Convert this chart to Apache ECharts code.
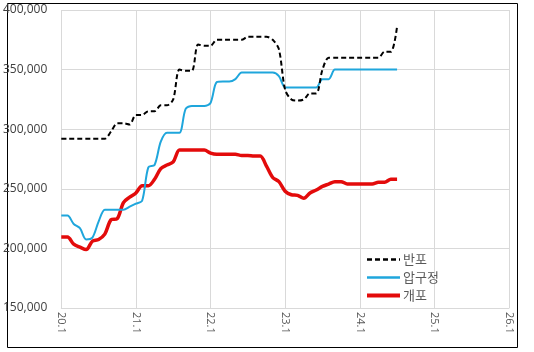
<!DOCTYPE html>
<html>
<head>
<meta charset="utf-8">
<script src="https://cdn.jsdelivr.net/npm/echarts@6/dist/echarts.min.js"></script>
<style>
  html, body { margin: 0; padding: 0; background: #fff; }
  #chart { width: 534px; height: 352px; }
</style>
</head>
<body>
<div id="chart"></div>
<script>
// 연도 눈금 (x축 라벨)
var tickLabels = ['20.1', '21.1', '22.1', '23.1', '24.1', '25.1', '26.1'];
var seriesNames = ['반포', '압구정', '개포'];

// 월별 값 (20.1 ~ 24.7)
var banpo = [
  292, 292, 292, 292, 292, 292, 292, 292, 298, 305, 305, 304,
  312, 312, 315, 315, 320, 320, 325, 350, 349, 349, 371, 370,
  370, 375, 375, 375, 375, 375, 377.5, 377.5, 377.5, 377.5, 375, 367,
  333, 325, 324, 325, 330, 330, 350, 360, 360, 360, 360, 360,
  360, 360, 360, 360, 365, 365, 386
];
var apgujeong = [
  227.5, 227.5, 220.5, 217, 207.5, 209, 222.5, 232.5, 232.5, 232.5, 232.5, 235,
  237.5, 240, 268, 270, 289.5, 297, 297, 297, 317, 319.5, 319.5, 319.5,
  322, 339.5, 340, 340, 342, 347.5, 347.5, 347.5, 347.5, 347.5, 347.5, 344.5,
  335, 335, 335, 335, 335, 335, 342, 342, 350, 350, 350, 350,
  350, 350, 350, 350, 350, 350, 350
];
var gaepo = [
  209.5, 209.5, 203.5, 201, 199, 206, 207.5, 212, 224, 225, 238.5, 243,
  246.5, 252.5, 252.5, 258, 267, 270, 272.5, 282.5, 282.5, 282.5, 282.5, 282.5,
  280, 279, 279, 279, 279, 278, 278, 277.5, 277.5, 269, 259.5, 256,
  248, 245, 244.5, 242, 246.5, 249, 252, 254, 256, 256, 254, 254,
  254, 254, 254, 255.5, 255.5, 258, 258
];

// 월 카테고리 만들기
var months = [];
for (var y = 20; y <= 26; y++) {
  for (var m = 1; m <= 12; m++) {
    months.push(y + '.' + m);
    if (y === 26) break;
  }
}

function toWon(arr) {
  return arr.map(function (v) { return v * 1000; });
}

var chart = echarts.init(document.getElementById('chart'));

var option = {
  animation: false,
  textStyle: { fontFamily: 'Open Sans, Noto Sans CJK KR, sans-serif' },
  grid: { left: 61, right: 25, top: 10, bottom: 44 },
  graphic: [{
    type: 'rect',
    shape: { x: 7.5, y: 3.5, width: 510, height: 344 },
    style: { fill: 'none', stroke: '#000', lineWidth: 1 },
    silent: true
  }],
  legend: {
    orient: 'vertical',
    left: 360,
    top: 248,
    itemWidth: 33,
    itemHeight: 14,
    itemGap: 5,
    itemStyle: { opacity: 0 },
    textStyle: { color: '#595959', fontSize: 13, fontFamily: 'Noto Sans CJK KR', padding: [0, 0, 0, -2] },
    data: [
      { name: seriesNames[0], lineStyle: { width: 2.5 } },
      { name: seriesNames[1], lineStyle: { width: 2.5 } },
      { name: seriesNames[2], lineStyle: { width: 4 } }
    ]
  },
  xAxis: {
    type: 'category',
    boundaryGap: false,
    data: months,
    axisTick: { show: false },
    axisLine: { lineStyle: { color: '#d9d9d9' } },
    axisLabel: {
      interval: 11,
      rotate: -90,
      color: '#595959',
      fontSize: 11,
      margin: 4,
      formatter: function (v) {
        return tickLabels.indexOf(v) >= 0 ? v : '';
      }
    },
    splitLine: { show: true, interval: 11, lineStyle: { color: '#d9d9d9' } }
  },
  yAxis: {
    type: 'value',
    min: 150000,
    max: 400000,
    interval: 50000,
    axisLine: { show: false },
    axisTick: { show: false },
    axisLabel: {
      color: '#404040',
      fontSize: 12,
      margin: 14,
      formatter: function (v) { return v.toLocaleString('en-US'); }
    },
    splitLine: { lineStyle: { color: '#d9d9d9' } }
  },
  series: [
    {
      name: seriesNames[0],
      type: 'line',
      data: toWon(banpo),
      symbol: 'none',
      smooth: 0.3,
      lineStyle: { color: '#000', width: 2, type: [5, 3] },
      itemStyle: { color: '#000' },
      z: 4
    },
    {
      name: seriesNames[1],
      type: 'line',
      data: toWon(apgujeong),
      symbol: 'none',
      smooth: 0.3,
      lineStyle: { color: '#1fa6dc', width: 2 },
      itemStyle: { color: '#1fa6dc' },
      z: 3
    },
    {
      name: seriesNames[2],
      type: 'line',
      data: toWon(gaepo),
      symbol: 'none',
      smooth: 0.3,
      lineStyle: { color: '#e30b0b', width: 3.5 },
      itemStyle: { color: '#e30b0b' },
      z: 2
    }
  ]
};

chart.setOption(option);

window.addEventListener('resize', function () {
  chart.resize();
});
</script>
</body>
</html>
